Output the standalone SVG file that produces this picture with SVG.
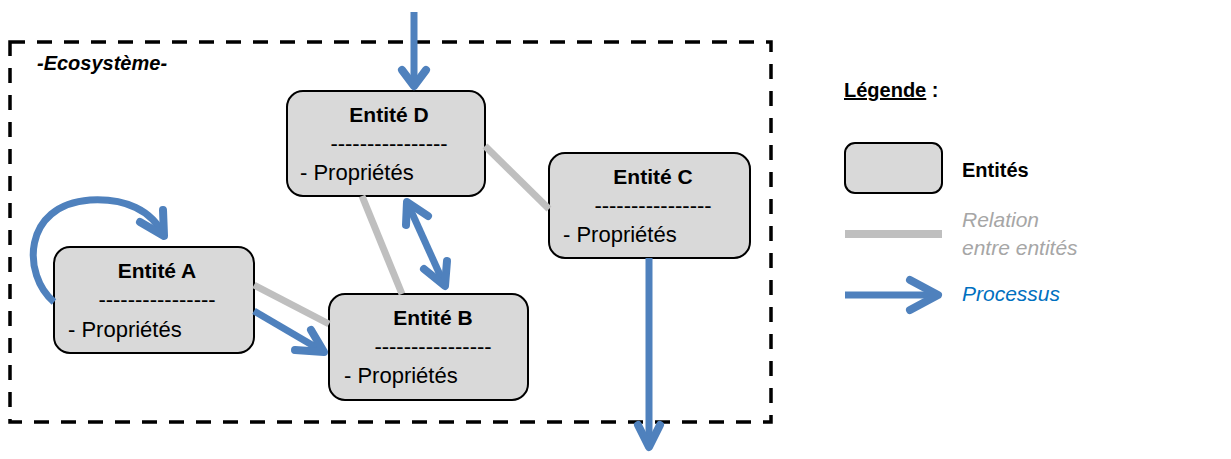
<svg xmlns="http://www.w3.org/2000/svg" width="1231" height="459" viewBox="0 0 1231 459">
<style>
text{font-family:"Liberation Sans",Arial,sans-serif;}
.box{fill:#D9D9D9;stroke:#000;stroke-width:2;}
.title{font-size:21px;font-weight:bold;text-anchor:middle;fill:#000;}
.sep{font-size:22px;text-anchor:middle;fill:#000;}
.prop{font-size:22px;fill:#000;}
.rel{fill:none;stroke:#BFBFBF;stroke-width:7;}
.proc{fill:none;stroke:#4F81BD;stroke-width:7;}
.head{fill:none;stroke:#4F81BD;stroke-width:8;stroke-linecap:round;stroke-linejoin:round;}
.frame{fill:none;stroke:#000;stroke-width:3.5;stroke-dasharray:15 12;}
</style>
<rect width="1231" height="459" fill="#fff"/>
<g id="ecosystem">
<rect class="frame" x="10" y="42" width="761" height="380"/>
<text x="37" y="70" font-size="20" font-weight="bold" font-style="italic">-Ecosystème-</text>
</g>
<g id="entite-d">
<rect class="box" x="287" y="91" width="198" height="105" rx="16"/>
<text class="title" x="389" y="122">Entité D</text>
<text class="sep" x="389" y="151">----------------</text>
<text class="prop" x="300" y="180">- Propriétés</text>
</g>
<g id="entite-c">
<rect class="box" x="549" y="153" width="201" height="105" rx="16"/>
<text class="title" x="653" y="184">Entité C</text>
<text class="sep" x="653" y="213">----------------</text>
<text class="prop" x="563" y="242">- Propriétés</text>
</g>
<g id="entite-a">
<rect class="box" x="54" y="247" width="200" height="106" rx="16"/>
<text class="title" x="157" y="278">Entité A</text>
<text class="sep" x="157" y="307">----------------</text>
<text class="prop" x="68" y="337">- Propriétés</text>
</g>
<g id="entite-b">
<rect class="box" x="329" y="294" width="199" height="106" rx="16"/>
<text class="title" x="433" y="325">Entité B</text>
<text class="sep" x="433" y="354">----------------</text>
<text class="prop" x="344" y="383">- Propriétés</text>
</g>
<g id="connectors">
<line class="rel" x1="485" y1="146" x2="549" y2="209"/>
<line class="rel" x1="362" y1="196" x2="402" y2="294"/>
<line class="rel" x1="254" y1="285" x2="329" y2="324"/>
<line class="proc" x1="414" y1="12" x2="414" y2="86"/>
<polyline class="head" points="402,70 414,86 426,70"/>
<line class="proc" x1="649" y1="258" x2="649" y2="447"/>
<polyline class="head" points="638,425 649,447 660,425"/>
<path class="proc" d="M54,302 C22,275 22,205 90,200 C125,198 152,210 164,236"/>
<polyline class="head" points="163,210 164,236 140,222"/>
<line class="proc" x1="254" y1="311" x2="324" y2="352"/>
<polyline class="head" points="295,350 324,352 311,330"/>
<line class="proc" x1="407" y1="202" x2="445" y2="286"/>
<polyline class="head" points="406,225 407,202 428,216"/>
<polyline class="head" points="424,269 445,286 447,261"/>
</g>
<g id="legend">
<text x="844" y="97" font-size="20" font-weight="bold"><tspan text-decoration="underline">Légende</tspan> :</text>
<rect class="box" x="845" y="143" width="97" height="50" rx="10"/>
<text x="962" y="177" font-size="20" font-weight="bold">Entités</text>
<line x1="845" y1="234" x2="942" y2="234" stroke="#BFBFBF" stroke-width="8"/>
<text x="962" y="227" font-size="21" font-style="italic" fill="#A6A6A6">Relation</text>
<text x="962" y="255" font-size="21" font-style="italic" fill="#A6A6A6">entre entités</text>
<line class="proc" x1="845" y1="295" x2="936" y2="295"/>
<polyline class="head" points="910,280 938,295 910,310"/>
<text x="962" y="301" font-size="21" font-style="italic" fill="#0070C0">Processus</text>
</g>
</svg>
